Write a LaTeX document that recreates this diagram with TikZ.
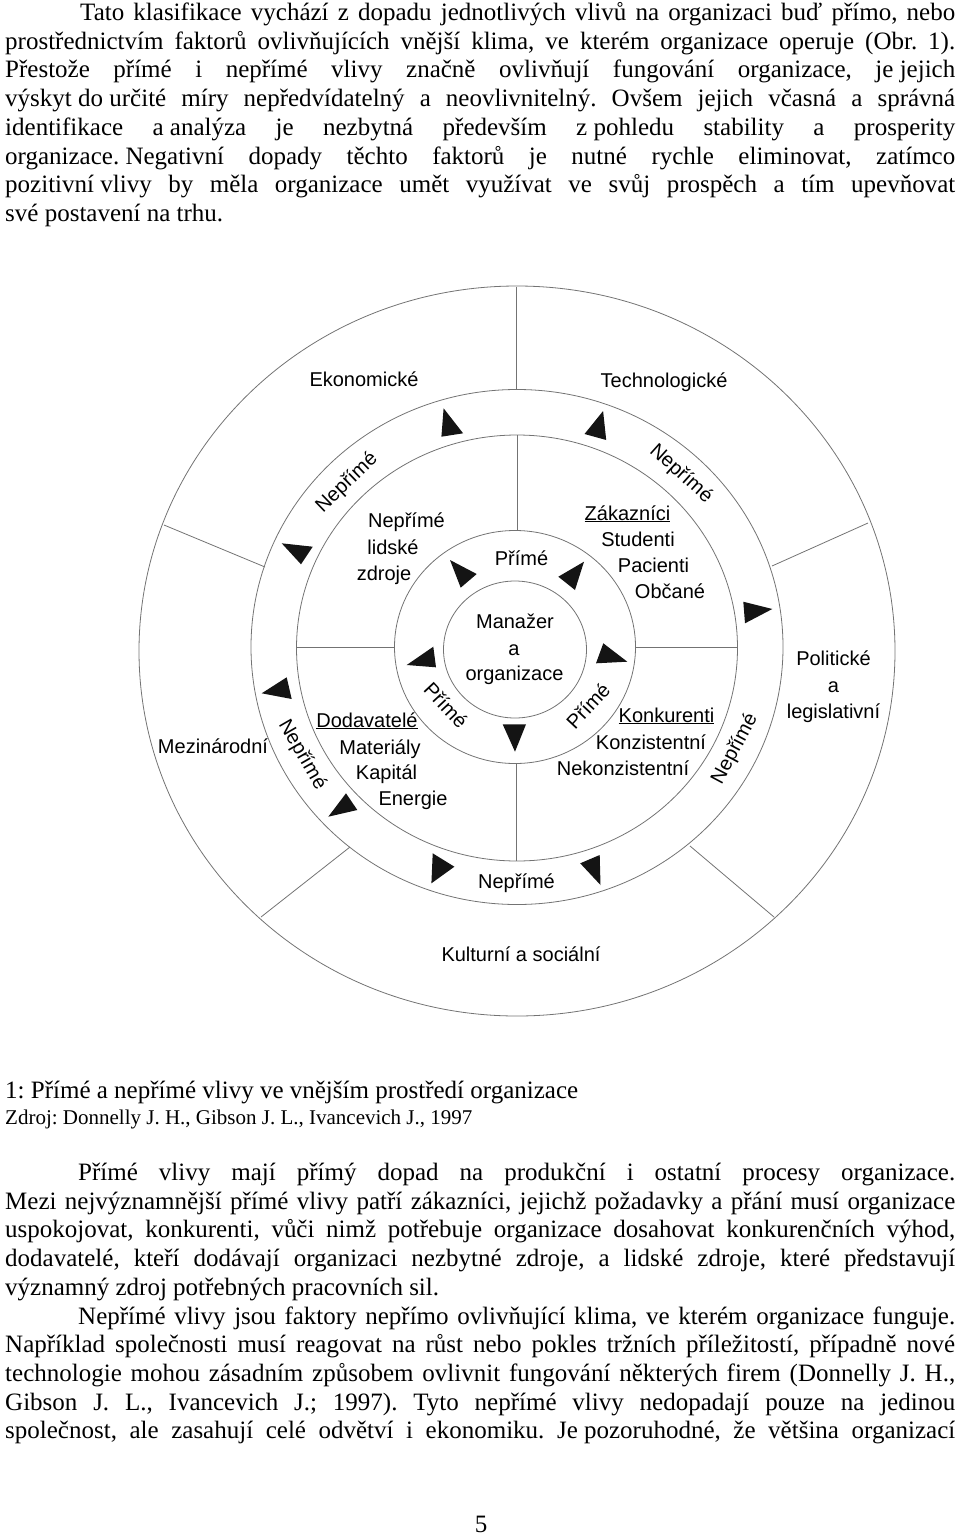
\documentclass[tikz,border=0pt]{standalone}
\usepackage{fontspec}
\setmainfont{Liberation Serif}
\newfontfamily\arialf{Liberation Sans}
\newcommand{\jline}[2]{\makebox[#1][s]{#2}}
\newcommand{\tightsp}{\kern0.25em\relax}
\frenchspacing
\begin{document}
\begin{tikzpicture}[x=1pt,y=-1pt,
  body/.style={anchor=base west, inner sep=0pt, font=\fontsize{25}{29}\selectfont},
  small/.style={anchor=base west, inner sep=0pt, font=\fontsize{21}{25}\selectfont},
  lbl/.style={anchor=base, inner sep=0pt, font=\arialf\fontsize{20}{24}\selectfont},
  rlbl/.style={anchor=center, inner sep=0pt, font=\arialf\fontsize{20}{24}\selectfont},
  ring/.style={draw=black!55, line width=0.8pt},
  tri/.style={fill=black!92, draw=none}]
\useasboundingbox (0,0) rectangle (960,1537);

% ---------- top paragraph ----------
\node[body] (p1a) at (80,20.5) {\jline{875pt}{Tato klasifikace vychází z dopadu jednotlivých vlivů na organizaci buď přímo, nebo}};
\node[body] (p1b) at (5,49.2) {\jline{950pt}{prostřednictvím faktorů ovlivňujících vnější klima, ve kterém organizace operuje (Obr. 1).}};
\node[body] (p1c) at (5,77.9) {\jline{950pt}{Přestože přímé i nepřímé vlivy značně ovlivňují fungování organizace, je\tightsp jejich}};
\node[body] (p1d) at (5,106.6) {\jline{950pt}{výskyt\tightsp do\tightsp určité míry nepředvídatelný a neovlivnitelný. Ovšem jejich včasná a správná}};
\node[body] (p1e) at (5,135.3) {\jline{950pt}{identifikace a\tightsp analýza je nezbytná především z\tightsp pohledu stability a prosperity}};
\node[body] (p1f) at (5,164) {\jline{950pt}{organizace.\tightsp Negativní dopady těchto faktorů je nutné rychle eliminovat, zatímco}};
\node[body] (p1g) at (5,192.7) {\jline{950pt}{pozitivní\tightsp vlivy by měla organizace umět využívat ve svůj prospěch a tím upevňovat}};
\node[body] (p1h) at (5,221.4) {své postavení na trhu.};

% ---------- diagram rings ----------
\coordinate (c0) at (517,651);
\coordinate (c1) at (517,647);
\coordinate (c2) at (517,648);
\coordinate (c3) at (515,647);
\coordinate (c4) at (515,649.5);
\draw[ring] (c0) ellipse [x radius=378pt, y radius=365pt];
\draw[ring] (c1) ellipse [x radius=266pt, y radius=257.5pt];
\draw[ring] (c2) ellipse [x radius=220.5pt, y radius=213pt];
\draw[ring] (c3) ellipse [x radius=120.5pt, y radius=116.5pt];
\draw[ring] (c4) ellipse [x radius=71.5pt, y radius=68.5pt];

% outer dividers
\draw[ring] (516.5,287) -- (516.5,389.5);
\draw[ring] (164,525) -- (265,567);
\draw[ring] (772,566) -- (868,523);
\draw[ring] (261,917) -- (350,847);
\draw[ring] (690,846) -- (774,917);
% middle dividers
\draw[ring] (517,435) -- (517,530.5);
\draw[ring] (297,647) -- (394.5,647);
\draw[ring] (635.5,647) -- (738,647);
\draw[ring] (516,763.5) -- (516,861);

% ---------- triangles ----------
\fill[tri] (443.6,408.3) -- (441.4,436.7) -- (463.1,433.3) -- cycle;
\fill[tri] (603.1,411) -- (584.5,434) -- (606.2,440) -- cycle;
\fill[tri] (281.7,543.3) -- (312.7,546.7) -- (301,564.3) -- cycle;
\fill[tri] (743.3,601.7) -- (772.3,609) -- (745,623.3) -- cycle;
\fill[tri] (261.7,693.3) -- (286.7,677.3) -- (291.7,699) -- cycle;
\fill[tri] (328.3,816.7) -- (346,793.3) -- (357.3,810) -- cycle;
\fill[tri] (432.7,853.3) -- (454.4,866.7) -- (431.4,883.3) -- cycle;
\fill[tri] (580.2,863.3) -- (599.7,855) -- (600.5,885) -- cycle;
\fill[tri] (450,560) -- (476.7,574) -- (460.7,587.7) -- cycle;
\fill[tri] (584,561.7) -- (558.3,576.7) -- (575,590) -- cycle;
\fill[tri] (406.7,665) -- (433.3,646.7) -- (436,667.3) -- cycle;
\fill[tri] (603.3,643.3) -- (627.3,661.7) -- (596,663.3) -- cycle;
\fill[tri] (502.7,724.3) -- (526,724.3) -- (515,751.7) -- cycle;

% ---------- diagram labels ----------
\node[lbl] (eko) at (364,386) {Ekonomické};
\node[lbl] (tech) at (664,387) {Technologické};
\node[lbl] (mez) at (213,753) {Mezinárodní};
\node[lbl] (pol1) at (833.5,665.5) {Politické};
\node[lbl] (pol2) at (833.5,692) {a};
\node[lbl] (pol3) at (833.5,718.5) {legislativní};
\node[lbl] (kult) at (521,961) {Kulturní a sociální};

\node[rlbl, rotate=44] (n1) at (347,483) {Nepřímé};
\node[rlbl, rotate=-42] (n2) at (681,474) {Nepřímé};
\node[rlbl, rotate=-60] (n3) at (302,755) {Nepřímé};
\node[rlbl, rotate=62] (n4) at (735,749) {Nepřímé};
\node[lbl] (n5) at (516.5,888) {Nepřímé};

\node[lbl] (pr1) at (521.5,565) {Přímé};
\node[rlbl, rotate=-47] (pr2) at (446,705) {Přímé};
\node[rlbl, rotate=47] (pr3) at (588,706) {Přímé};

\node[lbl] (m1) at (515,628) {Manažer};
\node[lbl] (m2) at (514,655) {a};
\node[lbl] (m3) at (514.5,680) {organizace};

\node[lbl] (h1) at (406.5,527) {Nepřímé};
\node[lbl] (h2) at (393,554) {lidské};
\node[lbl] (h3) at (384,580) {zdroje};

\node[lbl] (z1) at (627.5,520) {\underline{Zákazníci}};
\node[lbl] (z2) at (638,546) {Studenti};
\node[lbl] (z3) at (653.5,572) {Pacienti};
\node[lbl] (z4) at (670,598) {Občané};

\node[lbl] (d1) at (367,727) {\underline{Dodavatelé}};
\node[lbl] (d2) at (380,754) {Materiály};
\node[lbl] (d3) at (386.5,779) {Kapitál};
\node[lbl] (d4) at (413,805) {Energie};

\node[lbl] (k1) at (666.5,722) {\underline{Konkurenti}};
\node[lbl] (k2) at (651,749) {Konzistentní};
\node[lbl] (k3) at (623,775) {Nekonzistentní};

% ---------- caption ----------
\node[body] (cap) at (5,1098.5) {1: Přímé a nepřímé vlivy ve vnějším prostředí organizace};
\node[small] (src) at (5,1124.5) {Zdroj: Donnelly J. H., Gibson J. L., Ivancevich J., 1997};

% ---------- lower paragraphs ----------
\node[body] (p2a) at (78,1180.5) {\jline{877pt}{Přímé vlivy mají přímý dopad na produkční i ostatní procesy organizace.}};
\node[body] (p2b) at (5,1209.2) {\jline{950pt}{Mezi nejvýznamnější přímé vlivy patří zákazníci, jejichž požadavky a přání musí organizace}};
\node[body] (p2c) at (5,1237.9) {\jline{950pt}{uspokojovat, konkurenti, vůči nimž potřebuje organizace dosahovat konkurenčních výhod,}};
\node[body] (p2d) at (5,1266.6) {\jline{950pt}{dodavatelé, kteří dodávají organizaci nezbytné zdroje, a lidské zdroje, které představují}};
\node[body] (p2e) at (5,1295.3) {významný zdroj potřebných pracovních sil.};
\node[body] (p3a) at (78,1324) {\jline{877pt}{Nepřímé vlivy jsou faktory nepřímo ovlivňující klima, ve kterém organizace funguje.}};
\node[body] (p3b) at (5,1352.7) {\jline{950pt}{Například společnosti musí reagovat na růst nebo pokles tržních příležitostí, případně nové}};
\node[body] (p3c) at (5,1381.4) {\jline{950pt}{technologie mohou zásadním způsobem ovlivnit fungování některých firem (Donnelly J. H.,}};
\node[body] (p3d) at (5,1410.1) {\jline{950pt}{Gibson J. L., Ivancevich J.; 1997). Tyto nepřímé vlivy nedopadají pouze na jedinou}};
\node[body] (p3e) at (5,1438.8) {\jline{950pt}{společnost, ale zasahují celé odvětví i ekonomiku. Je\tightsp pozoruhodné, že většina organizací}};

\node[body, anchor=base] (pg) at (481,1532) {5};
\end{tikzpicture}
\end{document}
